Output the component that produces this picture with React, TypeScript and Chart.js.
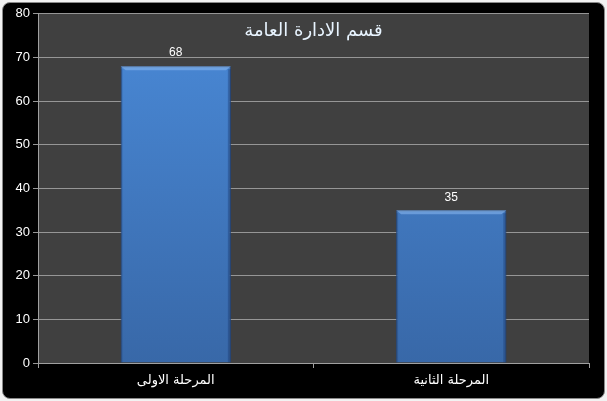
import React, { useEffect, useRef } from "react";
import { Chart, registerables } from "chart.js";

Chart.register(...registerables);

const title = "قسم الادارة العامة";
const categories = ["المرحلة الاولى", "المرحلة الثانية"];
const values = [68, 35];
const yTicks = [0, 10, 20, 30, 40, 50, 60, 70, 80];

const bgPlugin = {
  id: "bgPlugin",
  beforeDraw(chart: any) {
    const { ctx, chartArea } = chart;
    ctx.save();
    ctx.fillStyle = "#404040";
    ctx.fillRect(chartArea.left, chartArea.top, chartArea.right - chartArea.left, chartArea.bottom - chartArea.top);
    ctx.restore();
  },
  afterDatasetsDraw(chart: any) {
    const { ctx, chartArea } = chart;
    const meta = chart.getDatasetMeta(0);
    ctx.save();
    meta.data.forEach((bar: any, i: number) => {
      const half = bar.width / 2;
      const l = bar.x - half;
      const r = bar.x + half;
      const t = bar.y;
      const b = bar.base;
      ctx.fillStyle = "rgba(140,185,240,0.55)";
      ctx.beginPath();
      ctx.moveTo(l, t);
      ctx.lineTo(r, t);
      ctx.lineTo(r - 5, t + 4);
      ctx.lineTo(l + 5, t + 4);
      ctx.closePath();
      ctx.fill();
      ctx.fillStyle = "rgba(20,50,100,0.35)";
      ctx.fillRect(r - 3, t + 3, 3, b - t - 3);
      ctx.fillStyle = "rgba(20,50,100,0.2)";
      ctx.fillRect(l, t + 3, 2, b - t - 3);
      ctx.fillStyle = "#ffffff";
      ctx.font = "12px 'Liberation Sans', Arial, sans-serif";
      ctx.textAlign = "center";
      ctx.textBaseline = "bottom";
      ctx.fillText(String(values[i]), bar.x, t - 7);
    });
    ctx.fillStyle = "#e8f4ff";
    ctx.font = "18px 'DejaVu Sans', sans-serif";
    ctx.textAlign = "center";
    ctx.textBaseline = "middle";
    ctx.fillText(title, (chartArea.left + chartArea.right) / 2, chartArea.top + 18);
    ctx.restore();
  },
};

export default function App() {
  const ref = useRef<HTMLCanvasElement>(null);
  useEffect(() => {
    document.body.style.margin = "0";
    const canvas = ref.current!;
    const ctx = canvas.getContext("2d")!;
    const grad = ctx.createLinearGradient(0, 10, 0, 360);
    grad.addColorStop(0, "#4a8ad8");
    grad.addColorStop(1, "#3868a8");
    const chart = new Chart(canvas, {
      type: "bar",
      data: {
        labels: categories,
        datasets: [
          {
            data: values,
            backgroundColor: grad,
            borderColor: "#2c5490",
            borderWidth: 1,
            categoryPercentage: 1,
            barPercentage: 0.4,
          },
        ],
      },
      options: {
        animation: false,
        responsive: false,
        maintainAspectRatio: false,
        layout: { padding: { top: 10, right: 15, left: 0, bottom: 0 } },
        plugins: { legend: { display: false }, tooltip: { enabled: false }, title: { display: false } },
        scales: {
          x: {
            offset: true,
            grid: { offset: true, drawOnChartArea: false, drawTicks: true, tickLength: 5, color: "#a0a0a0" },
            border: { color: "#a0a0a0" },
            ticks: { color: "#ffffff", font: { family: "'DejaVu Sans', sans-serif", size: 13 }, padding: 5 },
            afterFit(scale: any) { scale.height = 35; },
          },
          y: {
            min: 0,
            max: 80,
            afterBuildTicks(scale: any) { scale.ticks = yTicks.map((v) => ({ value: v })); },
            grid: { color: "#969696", tickLength: 5 },
            border: { color: "#a0a0a0" },
            ticks: { color: "#ffffff", font: { family: "'Liberation Sans', Arial, sans-serif", size: 13 }, padding: 3 },
            afterFit(scale: any) { scale.width = 35; },
          },
        },
      },
      plugins: [bgPlugin],
    });
    return () => chart.destroy();
  }, []);
  return (
    <div style={{ position: "relative", width: 607, height: 401, background: "#f2f2f2", overflow: "hidden" }}>
      <div
        style={{
          position: "absolute",
          left: 2,
          top: 2,
          width: 601,
          height: 395,
          background: "#000",
          borderRadius: 8,
          border: "1px solid #8a8a8a",
          overflow: "hidden",
        }}
      >
        <canvas ref={ref} width={601} height={395} style={{ display: "block" }} />
      </div>
    </div>
  );
}
